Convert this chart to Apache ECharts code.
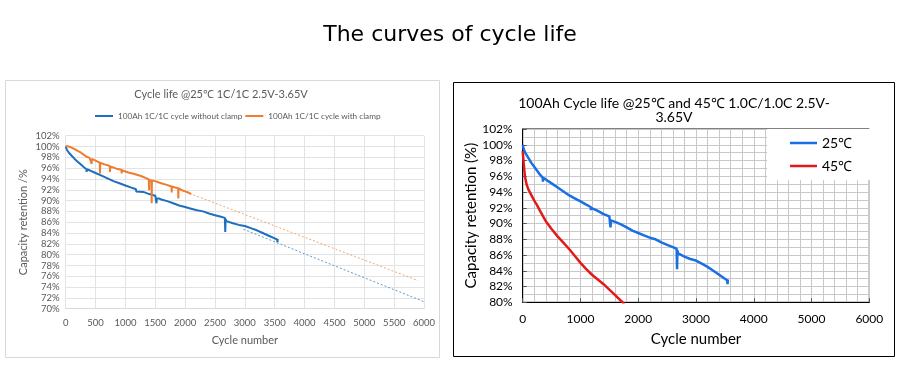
<!DOCTYPE html>
<html>
<head>
<meta charset="utf-8">
<script src="https://cdn.jsdelivr.net/npm/echarts@6/dist/echarts.min.js"></script>
<style>html,body{margin:0;padding:0;background:#fff}#c{width:900px;height:374px}</style>
</head>
<body>
<div id="c"></div>
<script>
// ---- Data ----
// 25°C cycling without clamp (left blue / right 25℃ blue)
const cyc25 = [0,20,50,100,150,200,250,300,348,350,354,400,500,600,700,800,900,1000,1100,1178,1180,1184,1200,1300,1400,1500,1516,1520,1526,1560,1600,1700,1800,1900,2000,2100,2200,2300,2400,2500,2600,2665,2672,2678,2690,2700,2800,2900,3000,3100,3200,3300,3400,3500,3540,3546,3552];
const ret25 = [100,99.4,98.9,98.3,97.7,97.2,96.7,96.2,95.8,95.3,95.8,95.6,95.1,94.6,94.1,93.6,93.2,92.8,92.4,92.1,91.7,92.0,92.0,91.6,91.2,90.9,90.8,89.5,90.4,90.4,90.2,89.9,89.5,89.1,88.8,88.5,88.2,88.0,87.6,87.3,87.0,86.8,84.2,86.6,86.2,86.1,85.8,85.5,85.3,84.9,84.5,84.0,83.5,83.0,82.8,82.3,82.9];
// 25°C cycling with clamp (left orange)
const cycClamp = [0,50,100,150,200,250,300,350,400,432,435,438,500,570,574,578,650,738,742,746,850,933,937,941,1050,1150,1250,1356,1392,1396,1400,1436,1440,1444,1470,1500,1550,1600,1691,1772,1775,1778,1840,1883,1886,1889,1950,2000,2050,2100];
const retClamp = [100.1,100.0,99.8,99.5,99.2,98.9,98.5,98.1,97.9,97.7,96.8,97.7,97.4,97.0,95.0,97.0,96.7,96.4,95.3,96.3,95.9,95.7,95.0,95.6,95.2,94.9,94.6,94.1,93.9,91.9,93.8,93.7,89.5,93.7,93.9,93.6,93.4,93.2,92.9,92.6,91.5,92.6,92.4,92.3,90.4,92.3,91.9,91.7,91.5,91.2];
// Extrapolated trend lines (dotted, left chart)
const trendClampCyc = [1700,5900];
const trendClampRet = [92.9,75.2];
const trendNoClampCyc = [2975,6000];
const trendNoClampRet = [84.7,71.3];
// 45°C cycling (right red)
const cyc45 = [0,10,20,40,70,100,150,200,250,300,400,500,600,700,800,900,1000,1100,1200,1300,1400,1500,1600,1700,1760];
const ret45 = [99.2,98.3,97.4,95.9,94.9,94.3,93.6,92.9,92.3,91.6,90.3,89.3,88.4,87.6,86.8,85.9,85.0,84.2,83.5,82.9,82.3,81.6,80.9,80.2,79.8];

const pairs = (xs, ys) => xs.map((x, i) => [x, ys[i]]);

const leftFont = 'Lato, "Open Sans", sans-serif';
const rightFont = 'Lato, "Open Sans", sans-serif';
const gLeft = '#595959';
const plain = v => String(v);

const chart = echarts.init(document.getElementById('c'));
chart.setOption({
  animation: false,
  backgroundColor: '#fff',
  title: [
    {text: 'The curves of cycle life', left: 'center', top: 24, padding: 0,
     textStyle: {fontFamily: '"DejaVu Sans", sans-serif', fontSize: 22, fontWeight: 'normal', color: '#000'}},
    {text: 'Cycle life @25℃ 1C/1C 2.5V-3.65V', left: 221, textAlign: 'center', top: 89, padding: 0,
     textStyle: {fontFamily: leftFont, fontSize: 11, fontWeight: 'normal', color: gLeft}},
    {text: '100Ah Cycle life @25℃ and 45℃ 1.0C/1.0C 2.5V-\n3.65V', left: 674, textAlign: 'center', top: 96, padding: 0,
     textStyle: {fontFamily: rightFont, fontSize: 14, lineHeight: 14, fontWeight: 'normal', color: '#000'}}
  ],
  graphic: [
    {type: 'rect', shape: {x: 5.5, y: 80.5, width: 434, height: 277}, style: {fill: 'none', stroke: '#d9d9d9', lineWidth: 1}, z: -1},
    {type: 'rect', shape: {x: 453.5, y: 82.5, width: 441, height: 274}, style: {fill: 'none', stroke: '#000', lineWidth: 1}, z: -1}
  ],
  legend: [
    {data: ['100Ah 1C/1C cycle without clamp', '100Ah 1C/1C cycle with clamp'], left: 95, top: 112, padding: 0,
     icon: 'rect', itemWidth: 18, itemHeight: 2, itemGap: 3,
     textStyle: {fontFamily: leftFont, fontSize: 8.2, color: gLeft}},
    {data: ['25℃', '45℃'], orient: 'vertical', left: 767, top: 129, padding: [7, 20, 7, 23],
     icon: 'rect', itemWidth: 27, itemHeight: 2.5, itemGap: 9, backgroundColor: '#fff',
     textStyle: {fontFamily: rightFont, fontSize: 14, color: '#000'}}
  ],
  grid: [
    {left: 65.7, right: 476, top: 135.7, bottom: 65.3},
    {left: 522.7, right: 30.7, top: 129, bottom: 71.7, show: true, borderColor: '#000', borderWidth: 1}
  ],
  xAxis: [
    {gridIndex: 0, type: 'value', min: 0, max: 6000, interval: 500,
     name: 'Cycle number', nameLocation: 'middle', nameGap: 26,
     nameTextStyle: {fontFamily: leftFont, fontSize: 11, color: gLeft},
     axisLine: {lineStyle: {color: '#d9d9d9'}}, axisTick: {show: false},
     axisLabel: {margin: 9, fontFamily: leftFont, fontSize: 9.5, color: gLeft, formatter: plain},
     splitLine: {lineStyle: {color: '#e3e3e3'}}},
    {gridIndex: 1, type: 'value', min: 0, max: 6000, interval: 1000,
     name: 'Cycle number', nameLocation: 'middle', nameGap: 29,
     nameTextStyle: {fontFamily: rightFont, fontSize: 15, color: '#000'},
     axisLine: {lineStyle: {color: '#000'}}, axisTick: {show: true, inside: true, length: 4, lineStyle: {color: '#555'}},
     axisLabel: {margin: 11, fontFamily: rightFont, fontSize: 12, color: '#000', formatter: plain},
     splitLine: {lineStyle: {color: '#c8c8c8'}},
     minorTick: {show: false, splitNumber: 5},
     minorSplitLine: {show: true, lineStyle: {color: '#c8c8c8'}}}
  ],
  yAxis: [
    {gridIndex: 0, type: 'value', min: 70, max: 102, interval: 2,
     name: 'Capacity retention /%', nameLocation: 'middle', nameGap: 37,
     nameTextStyle: {fontFamily: leftFont, fontSize: 11, color: gLeft},
     axisLine: {show: false}, axisTick: {show: false},
     axisLabel: {margin: 6, fontFamily: leftFont, fontSize: 9.5, color: gLeft, formatter: '{value}%'},
     splitLine: {lineStyle: {color: '#e3e3e3'}}},
    {gridIndex: 1, type: 'value', min: 80, max: 102, interval: 2,
     name: 'Capacity retention (%)', nameLocation: 'middle', nameGap: 42,
     nameTextStyle: {fontFamily: rightFont, fontSize: 15, color: '#000'},
     axisLine: {show: true, lineStyle: {color: '#000'}}, axisTick: {show: true, inside: true, length: 4, lineStyle: {color: '#555'}},
     axisLabel: {margin: 10, fontFamily: rightFont, fontSize: 12, color: '#000', formatter: '{value}%'},
     splitLine: {lineStyle: {color: '#c8c8c8'}},
     minorTick: {show: false, splitNumber: 2},
     minorSplitLine: {show: true, lineStyle: {color: '#c8c8c8'}}}
  ],
  series: [
    {name: 'trendNoClamp', type: 'line', xAxisIndex: 0, yAxisIndex: 0, data: pairs(trendNoClampCyc, trendNoClampRet),
     symbol: 'none', lineStyle: {color: '#5b9bd5', width: 1, type: [2, 2]}, z: 1},
    {name: 'trendClamp', type: 'line', xAxisIndex: 0, yAxisIndex: 0, data: pairs(trendClampCyc, trendClampRet),
     symbol: 'none', lineStyle: {color: '#f4a571', width: 1, type: [2, 2]}, z: 1},
    {name: '100Ah 1C/1C cycle without clamp', type: 'line', xAxisIndex: 0, yAxisIndex: 0, data: pairs(cyc25, ret25),
     symbol: 'none', color: '#1f6fbf', lineStyle: {color: '#1f6fbf', width: 2}, z: 3},
    {name: '100Ah 1C/1C cycle with clamp', type: 'line', xAxisIndex: 0, yAxisIndex: 0, data: pairs(cycClamp, retClamp),
     symbol: 'none', color: '#ed7d31', lineStyle: {color: '#ed7d31', width: 2}, z: 3},
    {name: '25℃', type: 'line', xAxisIndex: 1, yAxisIndex: 1, data: pairs(cyc25, ret25),
     symbol: 'none', color: '#1a6fe6', lineStyle: {color: '#1a6fe6', width: 2.5}, z: 3},
    {name: '45℃', type: 'line', xAxisIndex: 1, yAxisIndex: 1, data: pairs(cyc45, ret45),
     symbol: 'none', color: '#e31a1a', lineStyle: {color: '#e31a1a', width: 2.5}, z: 3}
  ]
});
</script>
</body>
</html>
